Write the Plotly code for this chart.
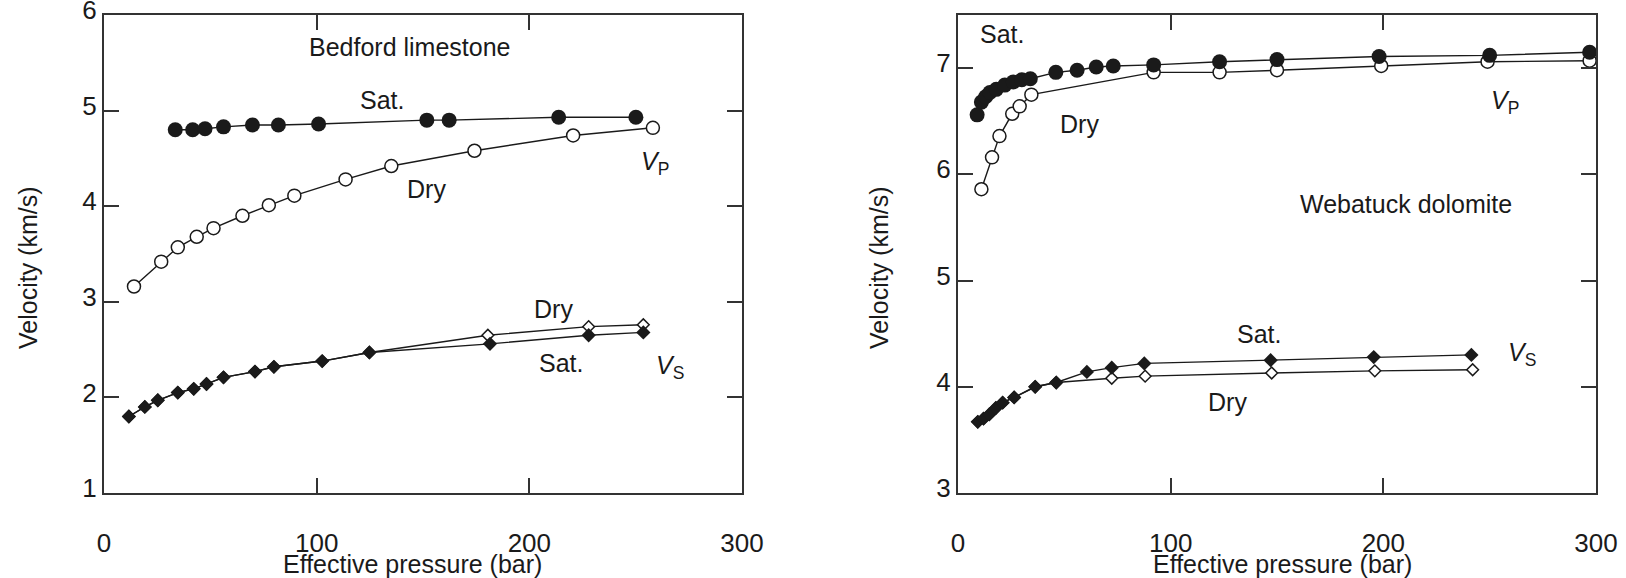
import plotly.graph_objects as go

# ---------------- data: Bedford limestone ----------------
bed_sat_vp_p = [33.5, 41.7, 47.5, 56.2, 69.8, 82.0, 100.9, 151.8, 162.3, 213.8, 250.1]
bed_sat_vp_v = [4.80, 4.80, 4.81, 4.83, 4.85, 4.85, 4.86, 4.90, 4.90, 4.93, 4.93]
bed_dry_vp_p = [14.1, 26.9, 34.7, 43.6, 51.5, 65.1, 77.5, 89.5, 113.6, 135.1, 174.2, 220.6, 258.1]
bed_dry_vp_v = [3.16, 3.42, 3.57, 3.68, 3.77, 3.90, 4.01, 4.11, 4.28, 4.42, 4.58, 4.74, 4.82]
bed_sat_vs_p = [11.7, 19.2, 25.3, 34.7, 42.2, 48.2, 56.2, 71.0, 79.9, 102.6, 124.8, 181.5, 227.9, 253.6]
bed_sat_vs_v = [1.80, 1.90, 1.97, 2.05, 2.09, 2.14, 2.21, 2.27, 2.32, 2.38, 2.47, 2.56, 2.65, 2.68]
bed_dry_vs_p = [11.7, 19.2, 25.3, 34.7, 42.2, 48.2, 56.2, 71.0, 79.9, 102.6, 124.8, 180.5, 227.9, 253.6]
bed_dry_vs_v = [1.80, 1.90, 1.97, 2.05, 2.09, 2.14, 2.21, 2.27, 2.32, 2.38, 2.47, 2.65, 2.74, 2.76]

# ---------------- data: Webatuck dolomite ----------------
web_sat_vp_p = [9, 11, 13, 15, 18, 22, 26, 30, 34, 46, 56, 65, 73, 92, 123, 150, 198, 250, 297]
web_sat_vp_v = [6.56, 6.68, 6.73, 6.77, 6.80, 6.84, 6.87, 6.89, 6.90, 6.96, 6.98, 7.01, 7.02, 7.03,
                7.06, 7.08, 7.11, 7.12, 7.15]
web_dry_vp_p = [11, 16, 19.5, 25.5, 29, 34.5, 92, 123, 150, 199, 249, 297]
web_dry_vp_v = [5.86, 6.16, 6.36, 6.57, 6.64, 6.75, 6.96, 6.96, 6.98, 7.02, 7.06, 7.07]
web_sat_vs_p = [9.3, 12.0, 14.7, 17.8, 21.0, 26.4, 36.3, 46.2, 60.6, 72.3, 87.6, 147, 195.5, 241.4]
web_sat_vs_v = [3.67, 3.70, 3.74, 3.80, 3.85, 3.90, 4.00, 4.04, 4.14, 4.18, 4.22, 4.25, 4.28, 4.30]
web_dry_vs_p = [9.3, 12.0, 14.7, 17.8, 21.0, 26.4, 36.3, 46.2, 72.3, 88, 147.5, 196, 242]
web_dry_vs_v = [3.67, 3.70, 3.74, 3.80, 3.85, 3.90, 4.00, 4.04, 4.08, 4.10, 4.13, 4.15, 4.16]

x_ticks = [0, 100, 200, 300]
left_y_ticks = [1, 2, 3, 4, 5, 6]
right_y_ticks = [3, 4, 5, 6, 7]

FONT = "Liberation Sans, Arial, Helvetica, sans-serif"
FS_TICK = 26
FS = 25
INK = "#1a1a1a"

fig = go.Figure()

def add(xs, ys, xa, ya, symbol, size, filled):
    fig.add_trace(go.Scatter(
        x=xs, y=ys, xaxis=xa, yaxis=ya, mode="lines+markers",
        line=dict(color=INK, width=1.4),
        marker=dict(symbol=symbol, size=size,
                    color=INK if filled else "white",
                    line=dict(color=INK, width=0 if filled else 1.5)),
        cliponaxis=False, showlegend=False, hoverinfo="x+y"))

# left panel
add(bed_dry_vp_p, bed_dry_vp_v, "x", "y", "circle", 13, False)
add(bed_sat_vp_p, bed_sat_vp_v, "x", "y", "circle", 15, True)
add(bed_dry_vs_p, bed_dry_vs_v, "x", "y", "diamond", 9, False)
add(bed_sat_vs_p, bed_sat_vs_v, "x", "y", "diamond", 11, True)
# right panel
add(web_dry_vp_p, web_dry_vp_v, "x2", "y2", "circle", 13, False)
add(web_sat_vp_p, web_sat_vp_v, "x2", "y2", "circle", 15, True)
add(web_dry_vs_p, web_dry_vs_v, "x2", "y2", "diamond", 9, False)
add(web_sat_vs_p, web_sat_vs_v, "x2", "y2", "diamond", 11, True)

W, H = 1626, 578
def px_x(a, b):
    return [a / W, b / W]
def px_y(top, bottom):
    return [1 - bottom / H, 1 - top / H]

axis_common = dict(
    showline=True, linewidth=2, linecolor="#333", mirror="allticks",
    ticks="inside", ticklen=15, tickwidth=2, tickcolor="#333",
    showgrid=False, zeroline=False, fixedrange=True, automargin=False,
    ticklabeloverflow="allow",
    tickfont=dict(family=FONT, size=FS_TICK, color=INK),
)

fig.update_layout(
    width=W, height=H,
    margin=dict(l=0, r=0, t=0, b=0, autoexpand=False),
    paper_bgcolor="white", plot_bgcolor="white",
    font=dict(family=FONT, size=FS, color=INK),
    xaxis=dict(domain=px_x(104, 742), range=[0, 300], tickvals=x_ticks,
               ticklabelstandoff=26, anchor="y", **axis_common),
    yaxis=dict(domain=px_y(15, 493), range=[1, 6], tickvals=left_y_ticks,
               ticklabelstandoff=0, ticklabelshift=-5, anchor="x", **axis_common),
    xaxis2=dict(domain=px_x(958, 1596), range=[0, 300], tickvals=x_ticks,
                ticklabelstandoff=26, anchor="y2", **axis_common),
    yaxis2=dict(domain=px_y(15, 493), range=[3, 7.5], tickvals=right_y_ticks,
                ticklabelstandoff=0, ticklabelshift=-5, anchor="x2", **axis_common),
)

def note(text, x, y, xref="x", yref="y", **kw):
    fig.add_annotation(text=text, x=x, y=y, xref=xref, yref=yref, showarrow=False,
                       xanchor="center", yanchor="middle",
                       font=dict(family=FONT, size=FS, color=INK), **kw)

# left panel labels
note("Bedford limestone", 144, 5.67)
note("Sat.", 130.7, 5.11)
note("Dry", 151.8, 4.18)
note("<i>V</i><sub>P</sub>", 259, 4.45)
note("Dry", 211.5, 2.92)
note("Sat.", 215, 2.36)
note("<i>V</i><sub>S</sub>", 266, 2.32)

# right panel labels
note("Sat.", 20.5, 7.32, "x2", "y2")
note("Dry", 57, 6.47, "x2", "y2")
note("<i>V</i><sub>P</sub>", 257, 6.68, "x2", "y2")
note("Webatuck dolomite", 210.7, 5.72, "x2", "y2")
note("Sat.", 141.7, 4.50, "x2", "y2")
note("<i>V</i><sub>S</sub>", 265, 4.31, "x2", "y2")
note("Dry", 126.9, 3.86, "x2", "y2")

# axis titles
note("Effective pressure (bar)", 412 / W, 1 - 564 / H, "paper", "paper")
note("Effective pressure (bar)", 1282 / W, 1 - 564 / H, "paper", "paper")
note("Velocity (km/s)", 28 / W, 1 - 268 / H, "paper", "paper", textangle=-90)
note("Velocity (km/s)", 879 / W, 1 - 268 / H, "paper", "paper", textangle=-90)

fig.write_html("out.html")
